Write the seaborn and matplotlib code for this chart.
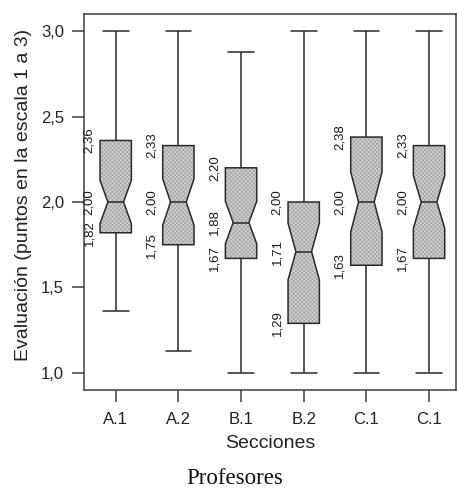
import matplotlib.pyplot as plt
import pandas as pd
import seaborn as sns
from matplotlib.colors import to_rgba
from matplotlib.ticker import FuncFormatter

# ---- Values (five-number summary per section)
#
secciones = ['A.1', 'A.2', 'B.1', 'B.2', 'C.1', 'C.1']
minimos = [1.36, 1.13, 1.00, 1.00, 1.00, 1.00]
cuartil_1 = [1.82, 1.75, 1.67, 1.29, 1.63, 1.67]
medianas = [2.00, 2.00, 1.88, 1.71, 2.00, 2.00]
cuartil_3 = [2.36, 2.33, 2.20, 2.00, 2.38, 2.33]
maximos = [3.00, 3.00, 2.88, 3.00, 3.00, 3.00]

# each summary value stands for 9 answers (45 per section), which gives
# the notch size seen in the chart and keeps the quartiles exact
respuestas_por_valor = 9

filas = []
for i, valores in enumerate(zip(minimos, cuartil_1, medianas, cuartil_3, maximos)):
    for v in valores:
        filas += [(i, v)] * respuestas_por_valor
df = pd.DataFrame(filas, columns=['grupo', 'evaluacion'])

# ---- Style
#
sns.set_style('ticks')
plt.rcParams['font.family'] = ['Liberation Sans', 'DejaVu Sans']
plt.rcParams['hatch.linewidth'] = 0.4

dark = '#2a2a2a'
fig = plt.figure(figsize=(4.57, 4.91), dpi=100)
ax = fig.add_axes([0.1838, 0.2057, 0.8140, 0.7658])

sns.boxplot(data=df, x='grupo', y='evaluacion', notch=True, width=0.5,
            color='#d0d0d0', saturation=1, linecolor=dark, linewidth=1.1,
            ax=ax)

# ---- Box texture and wider whisker caps
#
cont = ax.containers[0]
for box in cont.boxes:
    box.set_hatch('xxxxxxxx')
    box._hatch_color = to_rgba('#9a9a9a')
for cap in cont.caps:
    xs = cap.get_xdata()
    c = (xs[0] + xs[1]) / 2
    cap.set_xdata([c - 0.205, c + 0.205])

# ---- Value labels next to each box
#
for i in range(len(secciones)):
    for v in (cuartil_1[i], medianas[i], cuartil_3[i]):
        ax.annotate(f'{v:.2f}'.replace('.', ','), xy=(i - 0.25, v),
                    xytext=(-3.5, 0), textcoords='offset points',
                    rotation=90, ha='right', va='center', fontsize=9.5,
                    color='#1a1a1a')

# ---- Axes
#
ax.set_xlim(-0.506, 5.43)
ax.set_ylim(0.9, 3.1)
ax.set_xticks(range(len(secciones)), labels=secciones)
ax.set_yticks([1.0, 1.5, 2.0, 2.5, 3.0])
ax.yaxis.set_major_formatter(FuncFormatter(lambda v, _: f'{v:.1f}'.replace('.', ',')))
ax.tick_params(axis='both', length=8.5, width=1.1, color='#404040',
               labelsize=12, labelcolor='#222222')
ax.tick_params(axis='y', pad=6)
ax.tick_params(axis='x', pad=7)
for sp in ax.spines.values():
    sp.set_color('#404040')
    sp.set_linewidth(1.1)

ax.set_xlabel('Secciones', fontsize=14, color='#222222')
ax.set_ylabel('Evaluación (puntos en la escala 1 a 3)', fontsize=14,
              color='#222222')
ax.xaxis.set_label_coords(0.5, -0.12)
ax.yaxis.set_label_coords(-0.14, 0.52)

fig.text(0.514, 0.026, 'Profesores', ha='center', va='center', fontsize=16.5,
         family='Liberation Serif', color='#111111')

fig.savefig('out.png', dpi=100)
